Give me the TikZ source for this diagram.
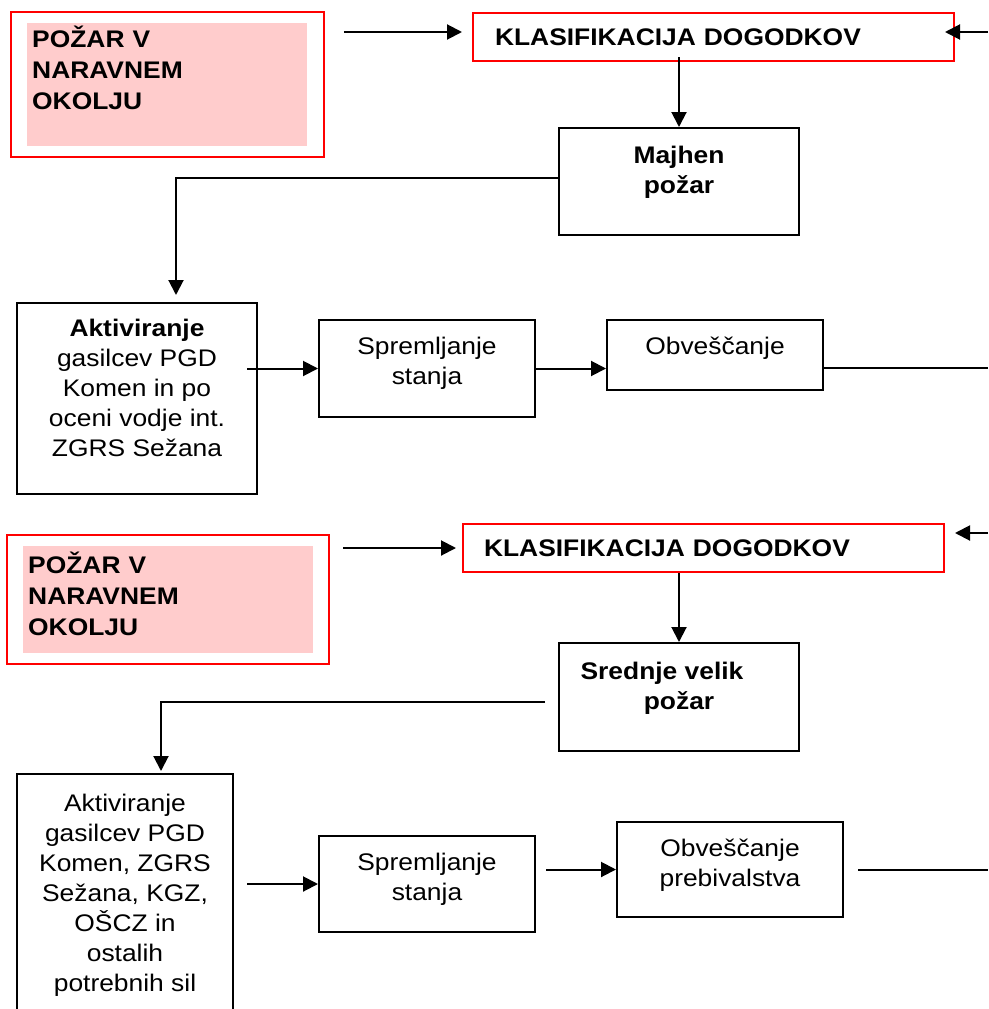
\documentclass[tikz,border=0pt]{standalone}
\usepackage{fontspec}
\setmainfont{Liberation Sans}[FakeStretch=1.1]
\usetikzlibrary{arrows.meta,fit}
\definecolor{rozaba}{RGB}{255,204,204}
\newcommand{\krepko}[1]{{\bfseries #1}}
\newcommand{\podpora}[1]{\rule[-#1]{0pt}{#1}}

\begin{document}
\begin{tikzpicture}[x=1pt,y=-1pt,
    font=\fontsize{24}{30}\selectfont,
    okvir/.style={draw,line width=2pt,inner sep=0pt,align=center},
    rdec/.style={draw=red,line width=2pt},
    naslov/.style={rdec,inner ysep=0pt,minimum height=48pt,align=left,font=\fontsize{24}{30}\selectfont\bfseries},
    roza/.style={fill=rozaba,inner xsep=5pt,inner ysep=0pt,align=left,anchor=north west,font=\fontsize{24}{31}\selectfont\bfseries},
    pus/.style={-{Triangle[length=15pt,width=15pt]},line width=2pt},
    crta/.style={line width=2pt}]
    \useasboundingbox (0,0) rectangle (988,1009);

	\node[roza,text width=270pt,minimum height=123pt] (pozar1) at (27,23) {POŽAR V\\NARAVNEM\\OKOLJU\podpora{33pt}};
	\node[rdec,fit=(pozar1),inner xsep=16.5pt,inner ysep=11pt] (okvir1) {};
	\coordinate (vhod1) at (988,32);
	\node[naslov,text width=437pt,inner xsep=22pt] (klas1) at (713.5,37) {KLASIFIKACIJA DOGODKOV};
    \draw[pus] ([xshift=19pt]okvir1.east |- vhod1) -- ([xshift=-10pt]klas1.west |- vhod1);
    \draw[pus] (vhod1) -- ([xshift=-10pt]klas1.east |- vhod1);

	\node[okvir,minimum width=240pt,minimum height=107pt,font=\fontsize{24}{30}\selectfont\bfseries] (majhen) at (679,181.5) {Majhen\\požar\podpora{24pt}};
    \draw[pus] ([yshift=5pt]klas1.south -| majhen.north) -- (majhen.north);

	\node[okvir,minimum width=240pt,minimum height=191pt] (akt1) at (137,398.5) {\krepko{Aktiviranje}\\gasilcev PGD\\Komen in po\\oceni vodje int.\\ZGRS Sežana\podpora{21pt}};
    \draw[pus] ([yshift=4pt]majhen.west) -| ([xshift=39pt,yshift=7pt]akt1.north);

	\node[okvir,minimum width=216pt,minimum height=97pt] (sprem1) at (427,368.5) {Spremljanje\\stanja\podpora{16pt}};
    \draw[pus] ([xshift=-11pt]akt1.east |- sprem1.west) -- (sprem1.west);
	\node[okvir,minimum width=216pt,minimum height=70pt] (obv1) at (715,355) {Obveščanje\podpora{18pt}};
    \draw[pus] (sprem1.east) -- (sprem1.east -| obv1.west);
	\coordinate (izhod1) at (988,368);
    \draw[crta] (obv1.east |- izhod1) -- (izhod1);

	\node[roza,text width=280pt,minimum height=107pt] (pozar2) at (23,546) {POŽAR V\\NARAVNEM\\OKOLJU\podpora{12pt}};
	\node[rdec,fit=(pozar2),inner xsep=16pt,inner ysep=11pt] (okvir2) {};
	\node[naslov,text width=439pt,inner xsep=21pt] (klas2) at (703.5,548) {KLASIFIKACIJA DOGODKOV};
    \draw[pus] ([xshift=13pt]okvir2.east |- klas2.west) -- ([xshift=-6pt]klas2.west);
	\coordinate (vhod2) at (988,533);
    \draw[pus] (vhod2) -- ([xshift=10pt]klas2.east |- vhod2);

	\node[okvir,minimum width=240pt,minimum height=108pt,font=\fontsize{24}{30}\selectfont\bfseries] (srednje) at (679,697) {Srednje velik\hspace{34pt}\mbox{}\\požar\podpora{23pt}};
    \draw[pus] (klas2.south -| srednje.north) -- (srednje.north);

	\node[okvir,minimum width=216pt,minimum height=246pt] (akt2) at (125,897) {Aktiviranje\\gasilcev PGD\\Komen, ZGRS\\Sežana, KGZ,\\OŠCZ in\\ostalih\\potrebnih sil\podpora{8pt}};
    \draw[pus] ([xshift=-13pt,yshift=-5pt]srednje.west) -| ([xshift=36pt,yshift=2pt]akt2.north);

	\node[okvir,minimum width=216pt,minimum height=96pt] (sprem2) at (427,884) {Spremljanje\\stanja\podpora{15pt}};
    \draw[pus] ([xshift=13pt]akt2.east |- sprem2.west) -- (sprem2.west);
	\node[okvir,minimum width=226pt,minimum height=95pt] (obv2) at (730,869.5) {Obveščanje\\prebivalstva\podpora{13pt}};
    \draw[pus] ([xshift=10pt]sprem2.east |- obv2.west) -- (obv2.west);
	\coordinate (izhod2) at (988,870);
    \draw[crta] ([xshift=14pt]obv2.east |- izhod2) -- (izhod2);
\end{tikzpicture}
\end{document}
